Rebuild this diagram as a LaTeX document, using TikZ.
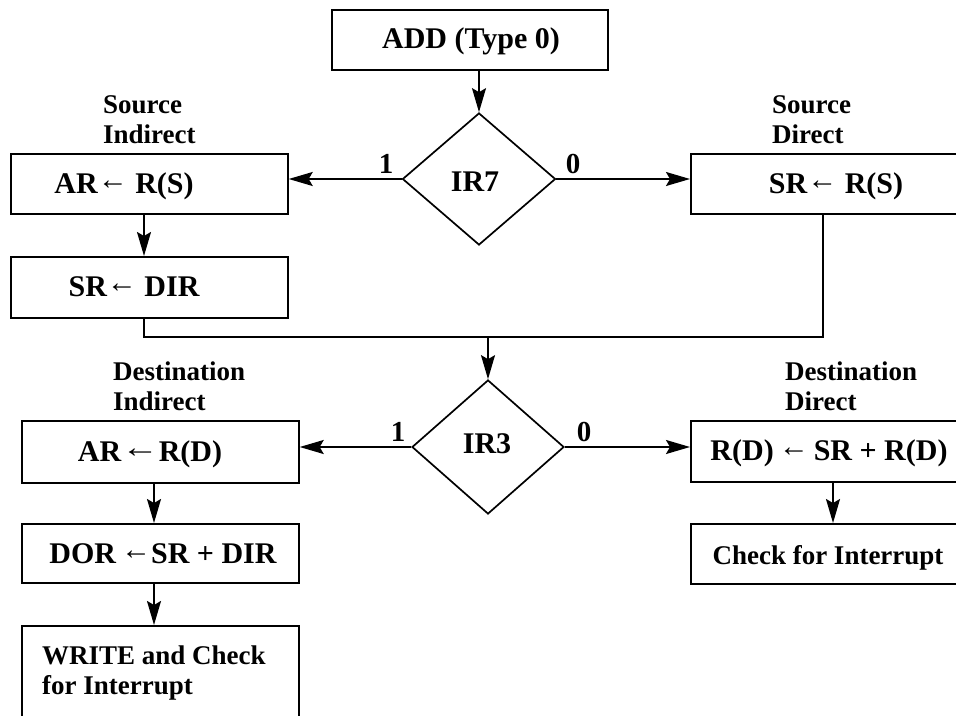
\documentclass[tikz,border=0pt]{standalone}
\usepackage{fontspec}
\setmainfont{Liberation Serif}
\usetikzlibrary{arrows.meta,shapes.geometric,calc}
\newcommand{\lar}[1][1.0]{\raisebox{4pt}{\scalebox{#1}[1]{{\mdseries\fontsize{30}{30}\selectfont ←}}}}
\begin{document}
\begin{tikzpicture}[x=1pt,y=-1pt,
  box/.style={draw,line width=1.7pt,rectangle,inner sep=0pt,anchor=north west},
  dia/.style={draw,line width=1.7pt,diamond,inner sep=0pt,font=\fontsize{30}{30}\selectfont\bfseries},
  btxt/.style={inner sep=0pt,anchor=base,font=\fontsize{30}{32}\selectfont\bfseries},
  stxt/.style={inner sep=0pt,anchor=base,font=\fontsize{27}{30}\selectfont\bfseries},
  lbl/.style={inner sep=0pt,anchor=north west,align=left,font=\fontsize{27}{30}\selectfont\bfseries},
  num/.style={inner sep=0pt,font=\fontsize{29}{29}\selectfont\bfseries},
  ln/.style={line width=1.7pt},
  arr/.style={line width=1.7pt,-{Stealth[length=24pt,width=14pt,inset=4pt]}}
]
\useasboundingbox (0,0) rectangle (956,715);
\clip (0,0) rectangle (956,715);
\fill[white] (0,0) rectangle (956,715);

% boxes
\node[box,minimum width=276pt,minimum height=60pt] (add) at (331,9) {};
\node[box,minimum width=277pt,minimum height=60pt] (ar1) at (10,153) {};
\node[box,minimum width=277pt,minimum height=61pt] (sr1) at (10,256) {};
\node[box,minimum width=290pt,minimum height=60pt] (srd) at (690,153) {};
\node[box,minimum width=277pt,minimum height=62pt] (ar2) at (21,420) {};
\node[box,minimum width=277pt,minimum height=59pt] (dor) at (21,523) {};
\node[box,minimum width=277pt,minimum height=110pt] (wr) at (21,625) {};
\node[box,minimum width=290pt,minimum height=61pt] (rd) at (690,420) {};
\node[box,minimum width=290pt,minimum height=60pt] (chk) at (690,523) {};

% diamonds
\node[dia,minimum width=153pt,minimum height=132pt] (ir7) at (479,179) {};
\node[dia,minimum width=152pt,minimum height=134pt] (ir3) at (488,447) {};

% texts
\node[btxt] (tadd) at (471,48) {ADD (Type 0)};
\node[btxt] (tir7) at (475,191) {IR7};
\node[btxt] (tir3) at (487,453) {IR3};
\node[btxt] (tar1) at (124,193) {AR\lar\ R(S)};
\node[btxt] (tsr1) at (134,296) {SR\lar\ DIR};
\node[btxt] (tsrd) at (836,193) {SR\lar\ R(S)};
\node[btxt] (tar2) at (150,461) {AR\lar[1.25]R(D)};
\node[btxt] (tdor) at (163,563) {DOR\,\lar SR + DIR};
\node[btxt] (trd) at (829,460) {R(D)\,\lar\,SR + R(D)};
\node[stxt] (tchk) at (828,564) {Check for Interrupt};
\node[lbl] (twr) at (42,646) {WRITE and Check\\for Interrupt};

% side labels
\node[lbl] (lsi) at (103,95) {Source\\Indirect};
\node[lbl] (lsd) at (772,95) {Source\\Direct};
\node[lbl] (ldi) at (113,362) {Destination\\Indirect};
\node[lbl] (ldd) at (785,362) {Destination\\Direct};

% branch numbers
\node[num] (n71) at (386,164) {1};
\node[num] (n70) at (573,164) {0};
\node[num] (n31) at (398,432) {1};
\node[num] (n30) at (584,432) {0};

% connectors
\coordinate (j) at (488,337);
\draw[arr] (add.south -| ir7.north) -- (ir7.north);
\draw[arr] (ir7.west) -- (ir7.west -| ar1.east);
\draw[arr] (ir7.east) -- (ir7.east -| srd.west);
\draw[arr] ($(ar1.south west)+(134,0)$) -- ($(sr1.north west)+(134,0)$);
\draw[ln] ($(sr1.south west)+(134,0)$) |- (j);
\draw[ln] ($(srd.south west)+(133,0)$) |- (j);
\draw[arr] (j) -- (ir3.north);
\draw[arr] (ir3.west) -- (ir3.west -| ar2.east);
\draw[arr] (ir3.east) -- (ir3.east -| rd.west);
\draw[arr] ($(ar2.south west)+(133,0)$) -- ($(dor.north west)+(133,0)$);
\draw[arr] ($(dor.south west)+(133,0)$) -- ($(wr.north west)+(133,0)$);
\draw[arr] ($(rd.south west)+(143,0)$) -- ($(chk.north west)+(143,0)$);
\end{tikzpicture}
\end{document}
